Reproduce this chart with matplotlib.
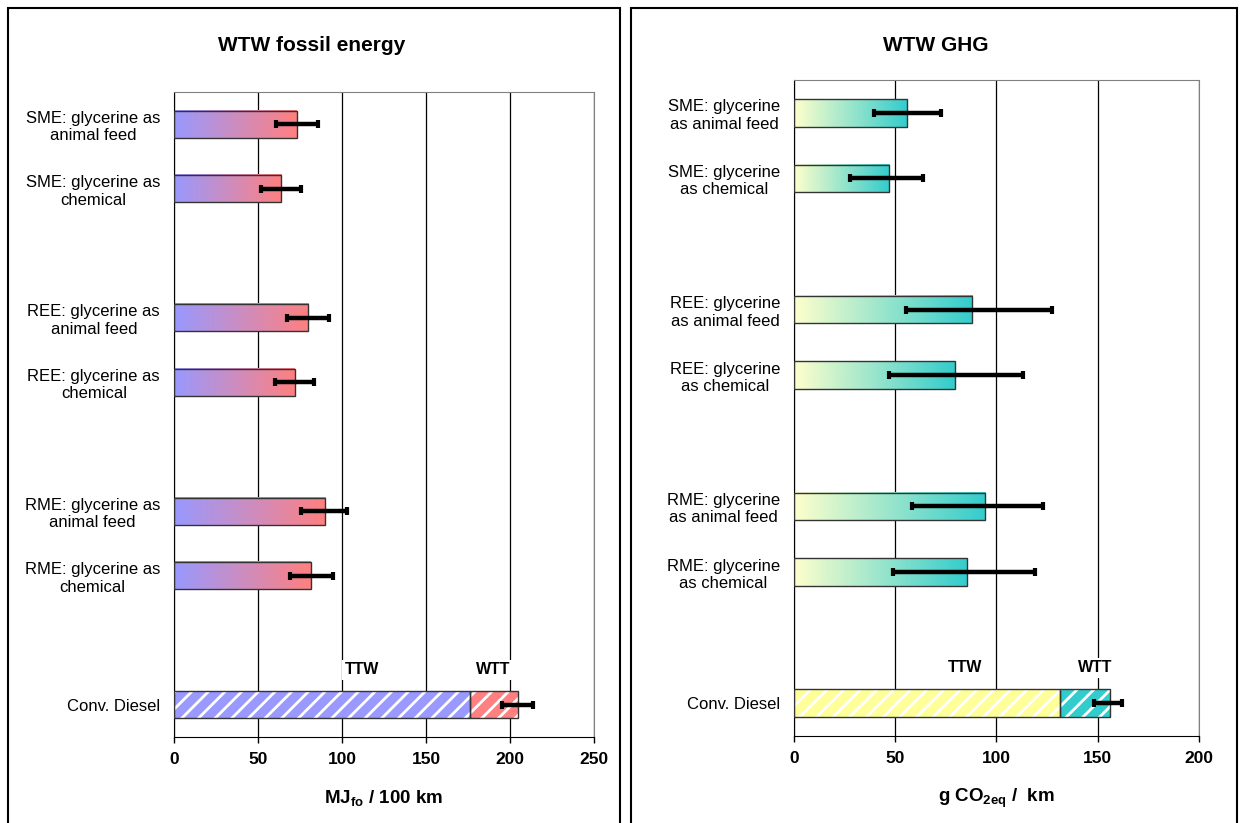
import numpy as np
import matplotlib
matplotlib.use("Agg")
import matplotlib.pyplot as plt
from matplotlib.colors import LinearSegmentedColormap
from matplotlib.patches import Rectangle

plt.rcParams['font.family'] = ['Liberation Sans', 'DejaVu Sans']
plt.rcParams['mathtext.fontset'] = 'custom'
plt.rcParams['mathtext.rm'] = 'Liberation Sans:bold'
plt.rcParams['mathtext.it'] = 'Liberation Sans:bold'
plt.rcParams['mathtext.bf'] = 'Liberation Sans:bold'
plt.rcParams['hatch.linewidth'] = 2.0
plt.rcParams['hatch.color'] = 'white'

# categories, bottom to top (two pathways per fuel)
fuels = ['RME', 'REE', 'SME']
uses = ['chemical', 'animal feed']
labels_left = ['RME: glycerine as\nchemical', 'RME: glycerine as\nanimal feed',
               'REE: glycerine as\nchemical', 'REE: glycerine as\nanimal feed',
               'SME: glycerine as\nchemical', 'SME: glycerine as\nanimal feed']
labels_right = ['RME: glycerine\nas chemical', 'RME: glycerine\nas animal feed',
                'REE: glycerine\nas chemical', 'REE: glycerine\nas animal feed',
                'SME: glycerine\nas chemical', 'SME: glycerine\nas animal feed']
diesel_label = 'Conv. Diesel'

# WTW fossil energy, MJ_fo / 100 km
energy = np.array([81.5, 90, 72, 80, 64, 73])
energy_lo = np.array([69, 75.5, 60, 67, 52, 61])
energy_hi = np.array([94.5, 103, 83.5, 92, 75.5, 85.5])
energy_diesel_ttw = 176.5
energy_diesel_wtt = 28
energy_diesel_err = (195.5, 214)

# WTW GHG, g CO2eq / km
ghg = np.array([85.5, 94.5, 79.5, 88, 47, 56])
ghg_lo = np.array([49, 58.5, 47, 55.5, 27.5, 39.5])
ghg_hi = np.array([119, 123, 113, 127.5, 63.5, 72.5])
ghg_diesel_ttw = 131.5
ghg_diesel_wtt = 24.5
ghg_diesel_err = (148, 162)

# y positions: diesel at 0, then groups of two with a gap
ypos = np.array([2 + 3 * g + i for g in range(len(fuels)) for i in range(len(uses))])
h = 0.42


def draw_panel(ax, vals, lo, hi, ttw, wtt, err, c0, c1, ctw, ctt, labels, xmax, ttw_x, wtt_x):
    cmap = LinearSegmentedColormap.from_list('grad', [c0, c1])
    grad = np.linspace(0, 1, 256).reshape(1, -1)
    for y, v in zip(ypos, vals):
        ax.imshow(grad, extent=[0, v, y - h / 2, y + h / 2], aspect='auto',
                  cmap=cmap, origin='lower', interpolation='bilinear', zorder=2)
    ax.barh(ypos, vals, height=h, fill=False, edgecolor='#333333', linewidth=1, zorder=3)
    ax.errorbar(vals, ypos, xerr=[vals - lo, hi - vals], fmt='none', ecolor='black',
                elinewidth=3.2, capsize=3, capthick=3, zorder=4)

    # conventional diesel split into TTW + WTT
    ax.barh(0, ttw, height=h, color=ctw, edgecolor='white', hatch='//', linewidth=0, zorder=2)
    ax.barh(0, wtt, left=ttw, height=h, color=ctt, edgecolor='white', hatch='//', linewidth=0, zorder=2)
    ax.barh([0, 0], [ttw, wtt], left=[0, ttw], height=h, fill=False,
            edgecolor='#333333', linewidth=1, zorder=3)
    tot = ttw + wtt
    ax.errorbar(tot, 0, xerr=[[tot - err[0]], [err[1] - tot]], fmt='none', ecolor='black',
                elinewidth=3.2, capsize=3, capthick=3, zorder=4)
    box = dict(facecolor='white', edgecolor='none', pad=2)
    ax.text(ttw_x, 0.54, 'TTW', ha='center', va='center', fontsize=11.5, fontweight='bold', bbox=box)
    ax.text(wtt_x, 0.54, 'WTT', ha='center', va='center', fontsize=11.5, fontweight='bold', bbox=box)

    ax.set_xlim(0, xmax)
    ax.set_ylim(-0.5, 9.5)
    ax.set_xticks(np.arange(0, xmax + 1, 50))
    ax.set_yticks(list(ypos) + [0])
    ax.set_yticklabels(labels + [diesel_label], fontsize=12)
    for t in ax.get_yticklabels():
        t.set_multialignment('center')
    ax.tick_params(axis='y', length=0, pad=10)
    ax.tick_params(axis='x', length=4, width=1, direction='out', pad=7, labelsize=12.5)
    for t in ax.get_xticklabels():
        t.set_fontweight('bold')
    ax.set_axisbelow(True)
    ax.grid(axis='x', color='black', linewidth=0.9)
    ax.spines['left'].set_color('black')
    ax.spines['bottom'].set_color('black')
    ax.spines['top'].set_color('#808080')
    ax.spines['right'].set_color('#808080')


fig = plt.figure(figsize=(12.4, 8.23), dpi=100)

ax1 = fig.add_axes([0.1403, 0.1045, 0.3387, 0.7837])
draw_panel(ax1, energy, energy_lo, energy_hi, energy_diesel_ttw, energy_diesel_wtt,
           energy_diesel_err, '#9999FF', '#FF8080', '#9999FF', '#FF8080',
           labels_left, 250, 112, 190)
ax1.set_xlabel('MJ$_{fo}$ / 100 km', fontsize=13.5, fontweight='bold', labelpad=15)

ax2 = fig.add_axes([0.6403, 0.1057, 0.3266, 0.7970])
draw_panel(ax2, ghg, ghg_lo, ghg_hi, ghg_diesel_ttw, ghg_diesel_wtt,
           ghg_diesel_err, '#FFFFCC', '#33CCCC', '#FFFF99', '#33CCCC',
           labels_right, 200, 84.5, 148.5)
ax2.set_xlabel('g CO$_{2eq}$ /  km', fontsize=13.5, fontweight='bold', labelpad=15)

fig.text(0.2516, 0.9453, 'WTW fossil energy', ha='center', va='center', fontsize=15, fontweight='bold')
fig.text(0.7548, 0.9453, 'WTW GHG', ha='center', va='center', fontsize=15, fontweight='bold')

# frames around the two charts
fig.patches.append(Rectangle((8 / 1240, -0.05), 612 / 1240, 1.05 - 8 / 823, transform=fig.transFigure,
                             fill=False, edgecolor='black', linewidth=1.5))
fig.patches.append(Rectangle((631 / 1240, -0.05), 606 / 1240, 1.05 - 8 / 823, transform=fig.transFigure,
                             fill=False, edgecolor='black', linewidth=1.5))

fig.savefig('out.png', dpi=100)
